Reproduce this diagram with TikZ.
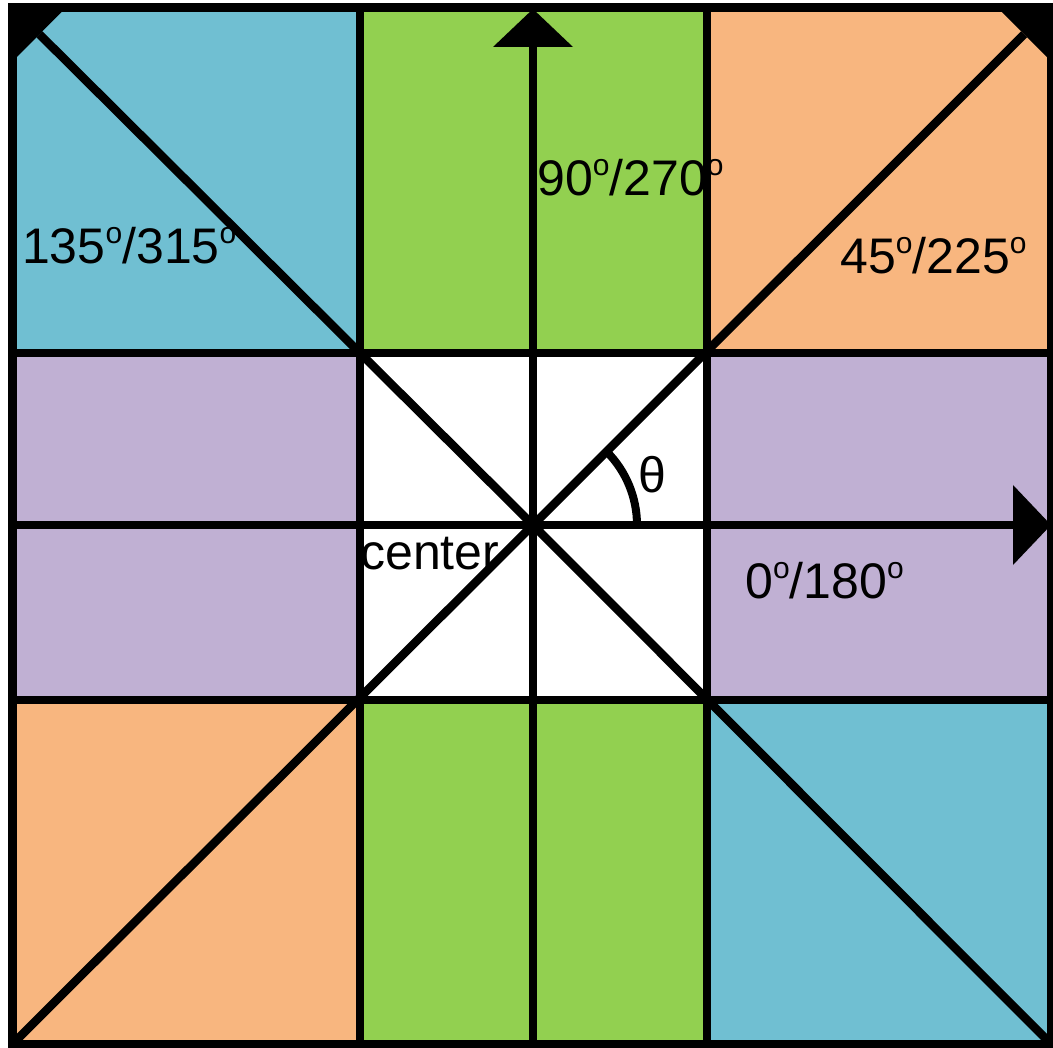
\documentclass[tikz,border=0pt]{standalone}
\usepackage{fontspec}
\setmainfont{Liberation Sans}
\usetikzlibrary{arrows.meta}
\definecolor{cblue}{RGB}{112,191,210}
\definecolor{cgreen}{RGB}{146,208,80}
\definecolor{cpeach}{RGB}{248,182,127}
\definecolor{cpurple}{RGB}{192,176,211}
\newcommand{\dg}{\raisebox{0.40em}{\fontsize{30}{30}\selectfont o}}
\tikzset{
  blk/.style={line width=8.5pt, line cap=butt},
  arr/.style={blk, -{Triangle[length=38pt,width=80pt,line width=0pt]}},
  lbl/.style={inner sep=0pt, anchor=base west, font=\fontsize{50}{58}\selectfont}
}
\begin{document}
\begin{tikzpicture}[x=1pt,y=-1pt]
\useasboundingbox (0,0) rectangle (1053,1048);
% key coordinates
\coordinate (TL) at (12.5,7.5);
\coordinate (TR) at (1051,7.5);
\coordinate (BL) at (12.5,1044);
\coordinate (BR) at (1051,1044);
\coordinate (C) at (533,525);
\coordinate (L) at (12.5,525);
\coordinate (R) at (1051,525);
\coordinate (T) at (533,9);
\coordinate (B) at (533,1044);
% fills
\fill[cblue]   (12.5,7.5) rectangle (360,353);
\fill[cgreen]  (360,7.5) rectangle (707,353);
\fill[cpeach]  (707,7.5) rectangle (1051,353);
\fill[cpurple] (12.5,353) rectangle (360,700);
\fill[white]   (360,353) rectangle (707,700);
\fill[cpurple] (707,353) rectangle (1051,700);
\fill[cpeach]  (12.5,700) rectangle (360,1044);
\fill[cgreen]  (360,700) rectangle (707,1044);
\fill[cblue]   (707,700) rectangle (1051,1044);
% grid lines
\draw[blk] (360,7.5) -- (360,1044);
\draw[blk] (707,7.5) -- (707,1044);
\draw[blk] (12.5,353) -- (1051,353);
\draw[blk] (12.5,700) -- (1051,700);
% frame
\draw[blk] (TL) rectangle (BR);
% diagonals with arrow at the top corners
\draw[arr] (BR) -- (C) -- (TL);
\draw[arr] (BL) -- (C) -- (TR);
% axes
\draw[arr] (L) -- (R);
\draw[arr] (B) -- (T);
% angle arc
\draw[line width=8pt] (637,525) arc[start angle=0,end angle=-45,radius=104];
% labels
\node[lbl] (l135) at (22,264) {135\dg/315\dg};
\node[lbl] (l90) at (537,196) {90\dg/270\dg};
\node[lbl] (l45) at (840,274) {45\dg/225\dg};
\node[lbl] (l0) at (745,598) {0\dg/180\dg};
\node[lbl] (lc) at (360,569) {center};
\node[lbl] (lt) at (638,493) {θ};
\end{tikzpicture}
\end{document}
